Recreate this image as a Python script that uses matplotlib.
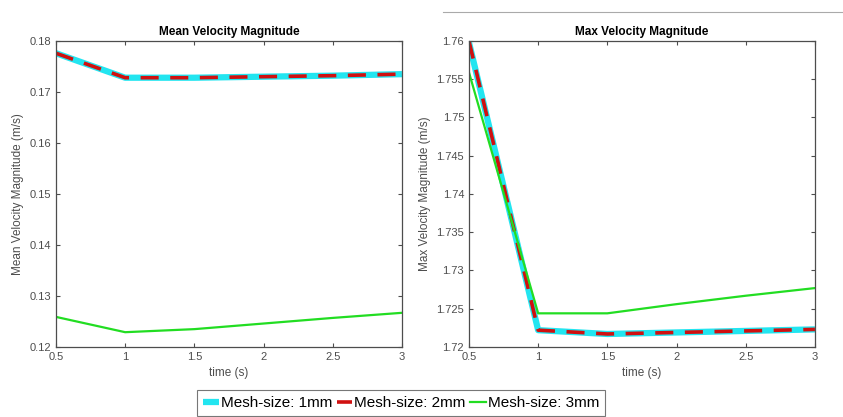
import matplotlib
matplotlib.use('Agg')
import matplotlib.pyplot as plt
from matplotlib.lines import Line2D

plt.rcParams['font.family'] = ['Liberation Sans', 'DejaVu Sans']

# time samples (s)
time = [0.5, 1.0, 1.5, 2.0, 2.5, 3.0]

# mean velocity magnitude (m/s)
mean_1mm = [0.1776, 0.1728, 0.1728, 0.1730, 0.1732, 0.1735]
mean_2mm = [0.1776, 0.1728, 0.1728, 0.1730, 0.1732, 0.1735]
mean_3mm = [0.1259, 0.1229, 0.1235, 0.1246, 0.1257, 0.1267]

# max velocity magnitude (m/s)
max_1mm = [1.7598, 1.7222, 1.7217, 1.7219, 1.7221, 1.7223]
max_2mm = [1.7600, 1.7222, 1.7217, 1.7219, 1.7221, 1.7223]
max_3mm = [1.7559, 1.7244, 1.7244, 1.7256, 1.7267, 1.7277]

labels = ['Mesh-size: 1mm', 'Mesh-size: 2mm', 'Mesh-size: 3mm']

tick_gray = '#4d4d4d'

fig = plt.figure(figsize=(8.43, 4.17), dpi=100)
ax1 = fig.add_axes([0.0664, 0.1679, 0.4104, 0.7338])
ax2 = fig.add_axes([0.5563, 0.1679, 0.4104, 0.7338])


def draw(ax, y1, y2, y3):
	l1, = ax.plot(time, y1, color='#22e5f0', lw=4.5, solid_capstyle='butt')
	l2, = ax.plot(time, y2, color='#d01010', lw=2.6, dashes=(5, 3.2))
	l3, = ax.plot(time, y3, color='#22dd22', lw=1.6)
	return [l1, l2, l3]


lines = draw(ax1, mean_1mm, mean_2mm, mean_3mm)
draw(ax2, max_1mm, max_2mm, max_3mm)

ax1.set_ylim(0.12, 0.18)
ax1.set_yticks([0.12, 0.13, 0.14, 0.15, 0.16, 0.17, 0.18])
ax1.set_yticklabels(['0.12', '0.13', '0.14', '0.15', '0.16', '0.17', '0.18'])
ax1.set_title('Mean Velocity Magnitude', fontsize=8.5, fontweight='bold', pad=4)
ax1.set_ylabel('Mean Velocity Magnitude (m/s)', fontsize=8.5, color=tick_gray)

ax2.set_ylim(1.72, 1.76)
yt = [1.72, 1.725, 1.73, 1.735, 1.74, 1.745, 1.75, 1.755, 1.76]
ax2.set_yticks(yt)
ax2.set_yticklabels(['1.72', '1.725', '1.73', '1.735', '1.74', '1.745', '1.75', '1.755', '1.76'])
ax2.set_title('Max Velocity Magnitude', fontsize=8.5, fontweight='bold', pad=4)
ax2.set_ylabel('Max Velocity Magnitude (m/s)', fontsize=8.5, color=tick_gray)

for ax in [ax1, ax2]:
	ax.set_xlim(0.5, 3)
	ax.set_xticks([0.5, 1, 1.5, 2, 2.5, 3])
	ax.set_xticklabels(['0.5', '1', '1.5', '2', '2.5', '3'])
	ax.set_xlabel('time (s)', fontsize=8.5, color=tick_gray)
	ax.tick_params(direction='in', top=True, right=True, labelsize=8,
		labelcolor=tick_gray, color=tick_gray, length=3, width=0.8)
	for s in ax.spines.values():
		s.set_color(tick_gray)
		s.set_linewidth(0.9)

# thin line above the right panel
fig.add_artist(Line2D([0.525, 1.0], [0.971, 0.971], color='#aaaaaa', lw=0.8))

leg = fig.legend(lines, labels, loc='lower center', bbox_to_anchor=(0.476, 0.0),
	ncol=3, fontsize=11, frameon=True, fancybox=False, handlelength=1.0,
	handletextpad=0.15, columnspacing=0.3, borderpad=0.4, borderaxespad=0.05)
leg.get_frame().set_edgecolor('#555555')
leg.get_frame().set_linewidth(0.8)

plt.savefig('out.png', dpi=100)
